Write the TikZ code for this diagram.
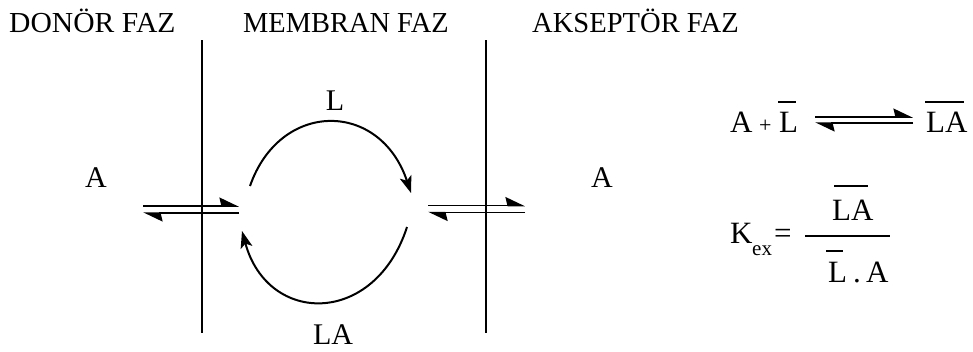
\documentclass[tikz,border=0pt]{standalone}
\usepackage{fontspec}
\setmainfont{Liberation Serif}
\usetikzlibrary{arrows.meta}
\begin{document}
\begin{tikzpicture}[x=1pt,y=-1pt,
  ttl/.style={font=\fontsize{29}{32}\selectfont, inner sep=0pt, anchor=base west},
  lab/.style={font=\fontsize{30}{34}\selectfont, inner sep=0pt},
  eq/.style={font=\fontsize{31}{34}\selectfont, inner sep=0pt, anchor=base west},
  wall/.style={line width=1.5pt},
  harp/.style={line width=1.5pt, -{Stealth[harpoon,length=18pt,width=17pt,inset=2pt]}},
  bow/.style={line width=2pt, -{Stealth[length=17pt,width=12pt,inset=4pt]}},
  bar/.style={line width=1.5pt}
]
\useasboundingbox (0,0) rectangle (973,351);
% titles
\node[ttl] (t1) at (9,32) {\scalebox{1.02}[1]{DONÖR FAZ}};
\node[ttl] (t2) at (243,32) {\scalebox{0.98}[1]{MEMBRAN FAZ}};
\node[ttl] (t3) at (532,32) {\scalebox{0.985}[1]{AKSEPTÖR FAZ}};
% walls
\coordinate (w1t) at (202,40); \coordinate (w1b) at (202,333);
\coordinate (w2t) at (486,40); \coordinate (w2b) at (486,333);
\draw[wall] (w1t) -- (w1b);
\draw[wall] (w2t) -- (w2b);
% species
\node[lab, anchor=base] (a1) at (96,187) {A};
\node[lab, anchor=base] (a2) at (602,187) {A};
% left exchange
\coordinate (l1) at (143,206); \coordinate (l2) at (239,206);
\coordinate (l3) at (143,213); \coordinate (l4) at (239,213);
\draw[harp] (l1) -- (l2);
\draw[harp] (l4) -- (l3);
% right exchange
\coordinate (r1) at (428,205.5); \coordinate (r2) at (525,205.5);
\coordinate (r3) at (428,212.5); \coordinate (r4) at (525,212.5);
\draw[harp] (r1) -- (r2);
\draw[harp] (r4) -- (r3);
% carrier cycle
\coordinate (u1) at (250,186); \coordinate (u2) at (411,193);
\draw[bow] (u1) .. controls (280,100) and (380,100) .. (u2);
\node[lab, anchor=base] (lL) at (335,110) {L};
\coordinate (d1) at (407,227); \coordinate (d2) at (242,231);
\draw[bow] (d1) .. controls (375,326) and (268,326) .. (d2);
\node[lab, anchor=base] (lLA) at (333,344) {LA};
% equilibrium
\node[eq] (eA) at (730,132) {A};
\node[font=\fontsize{22}{24}\selectfont, inner sep=0pt, anchor=base west] (ep) at (759,132) {+};
\node[eq] (eL) at (779,132) {L};
\draw[bar] (778,102) -- (796,102);
\coordinate (h1) at (815,117); \coordinate (h2) at (913,117);
\coordinate (h3) at (815,123); \coordinate (h4) at (913,123);
\draw[harp] (h1) -- (h2);
\draw[harp] (h4) -- (h3);
\node[eq] (eLA) at (926,132) {LA};
\draw[bar] (925,102) -- (964,102);
% constant
\node[eq] (K) at (730,243) {K};
\node[font=\fontsize{21}{24}\selectfont, inner sep=0pt, anchor=base west] (ex) at (752,255) {ex};
\node[eq] (eqs) at (774,243) {=};
\draw[bar] (805,236) -- (890,236);
\node[eq] (nLA) at (832,220) {LA};
\draw[bar] (834,186) -- (868,186);
\node[eq] (dL) at (828,282) {L};
\draw[bar] (826,251) -- (843,251);
\node[eq] (dot) at (853,282) {.};
\node[eq] (dA) at (866,282) {A};
\end{tikzpicture}
\end{document}
